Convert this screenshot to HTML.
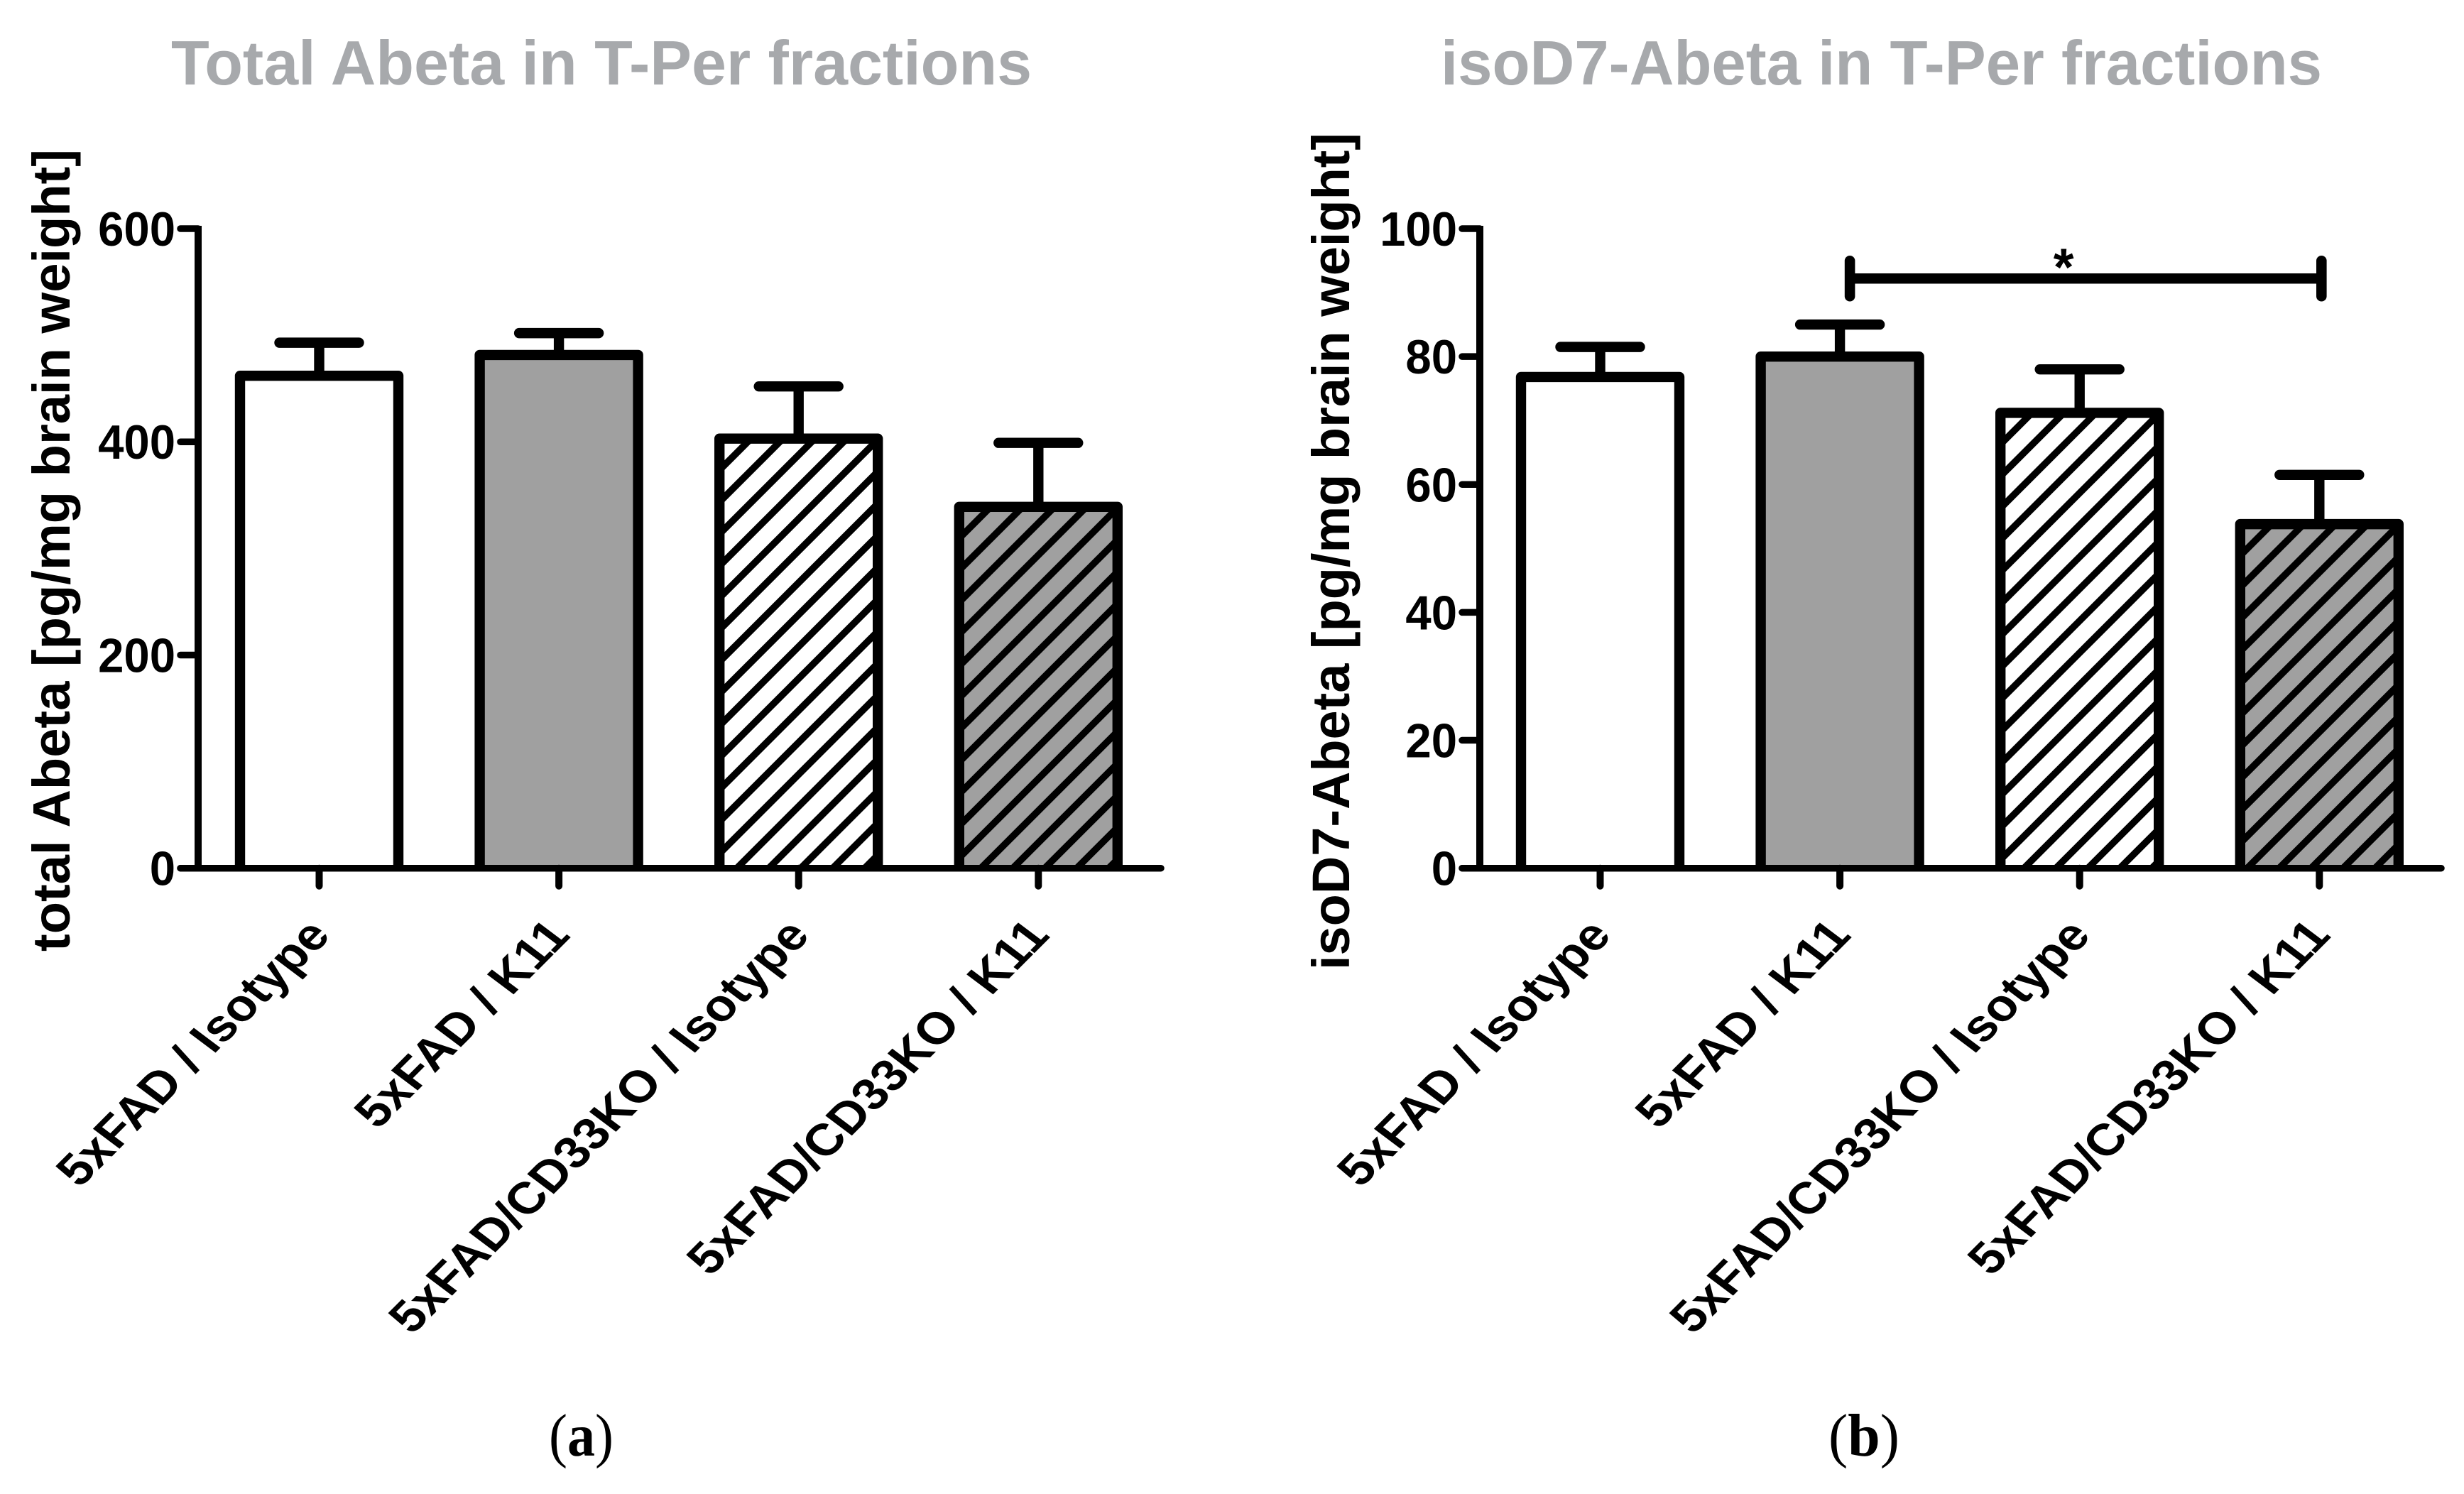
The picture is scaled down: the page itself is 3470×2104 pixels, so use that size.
<!DOCTYPE html>
<html lang="en">
<head>
<meta charset="utf-8">
<title>Total Abeta and isoD7-Abeta in T-Per fractions</title>
<style>
html,body{margin:0;padding:0;background:#fff;}
svg{display:block;}
text{font-family:"Liberation Sans",Arial,sans-serif;font-weight:bold;fill:#000;}
.title{font-size:88px;fill:#a7a9ac;}
.ylab{font-size:74px;}
.cap{font-family:"Liberation Serif","Times New Roman",serif;font-size:85px;font-weight:normal;}
.cap tspan{font-weight:bold;}
</style>
</head>
<body>
<svg id="figure" xmlns="http://www.w3.org/2000/svg" width="3470" height="2104" viewBox="0 0 3470 2104">
  <rect width="3470" height="2104" fill="#fff"/>
  <text class="title" x="241" y="119" textLength="1212" lengthAdjust="spacingAndGlyphs">Total Abeta in T-Per fractions</text>
  <text class="title" x="2029" y="119" textLength="1241" lengthAdjust="spacingAndGlyphs">isoD7-Abeta in T-Per fractions</text>
  <text class="ylab" transform="translate(98,1340) rotate(-90)" textLength="1130" lengthAdjust="spacingAndGlyphs">total Abeta [pg/mg brain weight]</text>
  <text class="ylab" transform="translate(1900,1366) rotate(-90)" textLength="1179" lengthAdjust="spacingAndGlyphs">isoD7-Abeta [pg/mg brain weight]</text>
  <text class="cap" x="773" y="2050" textLength="91" lengthAdjust="spacingAndGlyphs">(<tspan>a</tspan>)</text>
  <text class="cap" x="2575" y="2050" textLength="100" lengthAdjust="spacingAndGlyphs">(<tspan>b</tspan>)</text>
  <defs id="defs"></defs>
  <g id="panel-a"></g>
  <g id="panel-b"></g>
</svg>
<script>
const categories = ["5xFAD / Isotype", "5xFAD / K11", "5xFAD/CD33KO / Isotype", "5xFAD/CD33KO / K11"];
const fills = ["#ffffff", "#a0a0a0", "#ffffff", "#a0a0a0"];
const hatched = [false, false, true, true];
const totalMeans = [462, 481.5, 403, 339];
const totalErrorTops = [493, 502, 452, 399];
const totalTicks = [0, 200, 400, 600];
const isoMeans = [76.8, 80, 71.2, 53.8];
const isoErrorTops = [81.5, 85, 78, 61.5];
const isoTicks = [0, 20, 40, 60, 80, 100];
const isoBracket = { fromCategory: 1, toCategory: 3, value: 92.2, label: "*" };

const NS = "http://www.w3.org/2000/svg";
const STROKE = 14.4;
const BAR_W = 223;
const HATCH_PITCH = 45;
const HATCH_WIDTH = 9.6;
const HATCH_PHASE = 30;

function shape(tag, parent, attrs) {
  const el = document.createElementNS(NS, tag);
  for (const k in attrs) el.setAttribute(k, attrs[k]);
  parent.appendChild(el);
  return el;
}

function drawPanel(cfg, means, errs, ticks, bracket) {
  const root = document.getElementById(cfg.id);
  const yScale = v => cfg.y0 - (v / ticks[ticks.length - 1]) * (cfg.y0 - cfg.yTop);
  const xScale = i => cfg.xFirst + i * cfg.xStep;

  // bars and error bars
  means.forEach((m, i) => {
    const cx = xScale(i), yv = yScale(m), ye = yScale(errs[i]);
    const g = shape("g", root, {});
    
    

    const stem = shape("line", g, { x1: cx, x2: cx, y1: ye, y2: yv, stroke: "#000", "stroke-width": STROKE });
    
    

    const cap = shape("line", g, { x1: cx - 56, x2: cx + 56, y1: ye, y2: ye, stroke: "#000", "stroke-width": STROKE, "stroke-linecap": "round" });
    
    

    const left = cx - BAR_W / 2;
    const fill = shape("rect", g, { x: left, y: yv, width: BAR_W, height: cfg.y0 - yv, fill: fills[i] });
    
    

    if (hatched[i]) {
      const clipId = cfg.id + "-clip-" + i;
      const defs = document.getElementById("defs");
      const clip = shape("clipPath", defs, { id: clipId });
      shape("rect", clip, { x: left, y: yv, width: BAR_W, height: cfg.y0 - yv });
      const hatch = shape("g", g, { "clip-path": "url(#" + clipId + ")" });
      
      
      const ox = left + STROKE / 2, oy = yv + STROKE / 2 + HATCH_PHASE;
      const span = BAR_W + (cfg.y0 - yv) + HATCH_PITCH * 2;
      for (let d = -HATCH_PITCH; d < span; d += HATCH_PITCH) {
        shape("line", hatch, { x1: ox - 60, y1: oy + d + 60, x2: ox + d + HATCH_PHASE + 60, y2: yv - 60 + STROKE / 2, stroke: "#000", "stroke-width": HATCH_WIDTH });
      }
    }

    const outline = shape("polyline", g, { points: left + "," + cfg.y0 + " " + left + "," + yv + " " + (left + BAR_W) + "," + yv + " " + (left + BAR_W) + "," + cfg.y0, fill: "none", stroke: "#000", "stroke-width": STROKE, "stroke-linejoin": "round" });
    
    
  });

  // y axis
  const yAxis = shape("line", root, { x1: cfg.xAxis, x2: cfg.xAxis, y1: cfg.yTop - 4, y2: cfg.y0, stroke: "#000", "stroke-width": 10 });
  
  

  ticks.forEach(t => {
    const y = yScale(t);
    const tk = shape("line", root, { x1: cfg.xAxis - 25, x2: cfg.xAxis, y1: y, y2: y, stroke: "#000", "stroke-width": 9.5, "stroke-linecap": "round" });
    
    
    const lb = shape("text", root, { transform: "translate(" + (cfg.xAxis - 32) + "," + (y + 24) + ") scale(0.96,1)", "text-anchor": "end", "font-size": 68 });
    
    
    lb.textContent = t;
  });

  // x axis
  const xAxis = shape("line", root, { x1: cfg.xAxis - 25, x2: cfg.xEnd, y1: cfg.y0, y2: cfg.y0, stroke: "#000", "stroke-width": 9.5, "stroke-linecap": "round" });
  
  

  categories.forEach((c, i) => {
    const x = xScale(i);
    const tk = shape("line", root, { x1: x, x2: x, y1: cfg.y0, y2: cfg.y0 + 25, stroke: "#000", "stroke-width": 10, "stroke-linecap": "round" });
    
    
    const lb = shape("text", root, { transform: "translate(" + (x + 18) + "," + (cfg.y0 + 96) + ") rotate(-45) skewX(8)", "text-anchor": "end", "font-size": 67.5 });
    
    
    lb.textContent = c;
  });

  // significance bracket
  if (bracket) {
    const bx1 = xScale(bracket.fromCategory) + 14;
    const bx2 = xScale(bracket.toCategory) + 3;
    const by = yScale(bracket.value);
    const bar = shape("line", root, { x1: bx1, x2: bx2, y1: by, y2: by, stroke: "#000", "stroke-width": 14.6 });
    
    
    [bx1, bx2].forEach((bx, k) => {
      const end = shape("line", root, { x1: bx, x2: bx, y1: by - 25, y2: by + 25, stroke: "#000", "stroke-width": 14.6, "stroke-linecap": "round" });
      
      
    });
    const star = shape("text", root, { x: (bx1 + bx2) / 2 - 31, y: by + 9, "text-anchor": "middle", "font-size": 74 });
    
    
    star.textContent = bracket.label;
  }
}

drawPanel({ id: "panel-a", y0: 1222.7, yTop: 322, xAxis: 279, xEnd: 1635, xFirst: 449.5, xStep: 337.6 }, totalMeans, totalErrorTops, totalTicks, null);
drawPanel({ id: "panel-b", y0: 1222.7, yTop: 322, xAxis: 2084, xEnd: 3438, xFirst: 2253.5, xStep: 337.6 }, isoMeans, isoErrorTops, isoTicks, isoBracket);
</script>
</body>
</html>
